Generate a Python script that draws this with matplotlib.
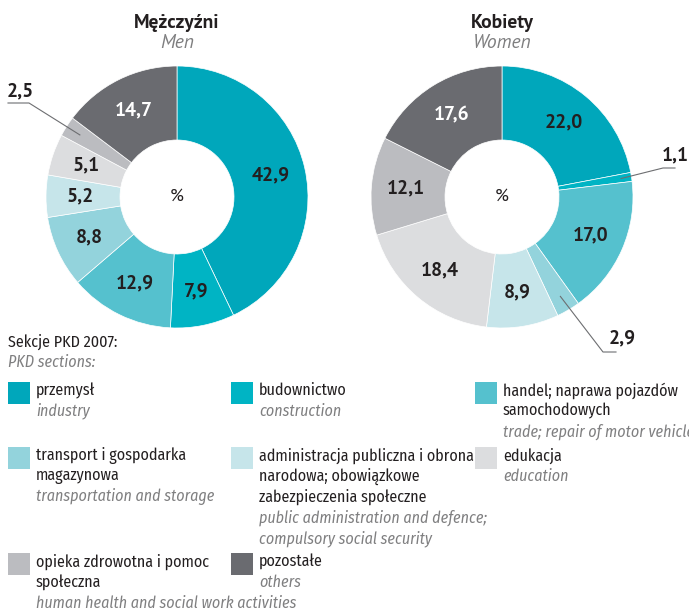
import numpy as np
import matplotlib
matplotlib.use("Agg")
import matplotlib.pyplot as plt
from matplotlib.patches import Rectangle
from matplotlib import font_manager

W, H = 689, 612

categories_pl = ["przemysł", "budownictwo", "handel; naprawa pojazdów\nsamochodowych",
                 "transport i gospodarka\nmagazynowa",
                 "administracja publiczna i obrona\nnarodowa; obowiązkowe\nzabezpieczenia społeczne",
                 "edukacja", "opieka zdrowotna i pomoc\nspołeczna", "pozostałe"]
categories_en = ["industry", "construction", "trade; repair of motor vehicles",
                 "transportation and storage",
                 "public administration and defence;\ncompulsory social security",
                 "education", "human health and social work activities", "others"]
men = [42.9, 7.9, 12.9, 8.8, 5.2, 5.1, 2.5, 14.7]
women = [22.0, 1.1, 17.0, 2.9, 8.9, 18.4, 12.1, 17.6]
colors = ["#00A7BB", "#00B4C4", "#55C1CE", "#93D3DC", "#C6E5EA", "#DCDDDF", "#BBBCC0", "#6A6B70"]

names = {f.name for f in font_manager.fontManager.ttflist}


def pick(*cands):
    for c in cands:
        if c in names:
            return c
    return "DejaVu Sans"


narrow = pick("Fira Sans Condensed", "Roboto Condensed", "PT Sans Narrow")
boldfam = pick("PT Sans", "Fira Sans", "Open Sans")

DARK = "#231F20"
GRAY = "#7F7F80"

fig = plt.figure(figsize=(W / 100, H / 100), dpi=100)
fig.patch.set_facecolor("white")


def fxy(x, y):
    return x / W, 1 - y / H


R_OUT, R_IN = 131, 57
NUM_FS = 14


def donut(cx, cy, values, title_pl, title_en, outside):
    ax = fig.add_axes([(cx - R_OUT) / W, (H - cy - R_OUT) / H, 2 * R_OUT / W, 2 * R_OUT / H])
    wedges, _ = ax.pie(values, colors=colors, startangle=90, counterclock=False,
                       radius=1.0, wedgeprops=dict(width=(R_OUT - R_IN) / R_OUT,
                                                   edgecolor="white", linewidth=0.5))
    ax.set_xlim(-1, 1)
    ax.set_ylim(-1, 1)
    ax.set_aspect("equal")
    ax.axis("off")
    ax.text(0, 0, "%", ha="center", va="center", fontsize=13, color=DARK, family=boldfam)
    cum = np.cumsum([0] + list(values))
    for i, v in enumerate(values):
        mid = 90 - (cum[i] + v / 2) * 3.6
        a = np.deg2rad(mid)
        lab = f"{v:.1f}".replace(".", ",")
        if i in outside:
            (tx, ty), (ex, ey), (hx, hy), r0 = outside[i]
            sx, sy = r0 * np.cos(a), r0 * np.sin(a)
            ax.plot([sx, ex, hx], [sy, ey, hy], color="#6D6E71", lw=0.8, clip_on=False)
            ax.text(tx, ty, lab, ha="center", va="center", fontsize=NUM_FS, fontweight="bold",
                    color=DARK, family=boldfam, clip_on=False)
        else:
            r = 0.735
            col = "white" if i == 7 else DARK
            ax.text(r * np.cos(a), r * np.sin(a), lab, ha="center", va="center",
                    fontsize=NUM_FS, fontweight="bold", color=col, family=boldfam)
    x, y = fxy(cx, 23)
    fig.text(x, y, title_pl, ha="center", va="center", fontsize=14, fontweight="bold",
             color=DARK, family=boldfam)
    x, y = fxy(cx, 43)
    fig.text(x, y, title_en, ha="center", va="center", fontsize=14, style="italic",
             color=GRAY, family=boldfam)
    return ax


def d(cx, cy, x, y):
    return (x - cx) / R_OUT, (cy - y) / R_OUT


mcx, mcy = 177, 197
wcx, wcy = 502, 197
donut(mcx, mcy, men, "Mężczyźni", "Men",
      {6: (d(mcx, mcy, 20, 91), d(mcx, mcy, 29, 103), d(mcx, mcy, 8, 103), 0.88)})
donut(wcx, wcy, women, "Kobiety", "Women",
      {1: (d(wcx, wcy, 675, 155), d(wcx, wcy, 663, 168), d(wcx, wcy, 675, 168), 0.92),
       3: (d(wcx, wcy, 622, 338), d(wcx, wcy, 603, 352), d(wcx, wcy, 616, 352), 0.88)})

FS = 11.5
# legend header
x, y = fxy(8, 342)
fig.text(x, y, "Sekcje PKD 2007:", ha="left", va="center", fontsize=FS, color=DARK, family=narrow)
x, y = fxy(8, 362)
fig.text(x, y, "PKD sections:", ha="left", va="center", fontsize=FS, style="italic",
         color=GRAY, family=narrow)

col_x = [8, 231, 475]
row_y = [382, 447, 553]
LS = 20.7
SQ = 22
for i in range(8):
    r, c = divmod(i, 3)
    sx, sy = col_x[c], row_y[r]
    fig.add_artist(Rectangle(fxy(sx, sy + SQ), SQ / W, SQ / H, transform=fig.transFigure,
                             facecolor=colors[i], edgecolor="none"))
    tx = sx + 28
    lines_pl = categories_pl[i].split("\n")
    lines_en = categories_en[i].split("\n")
    k = 0
    for ln in lines_pl:
        x, y = fxy(tx, sy + 8.5 + k * LS)
        fig.text(x, y, ln, ha="left", va="center", fontsize=FS, color=DARK, family=narrow)
        k += 1
    for ln in lines_en:
        x, y = fxy(tx, sy + 8.5 + k * LS)
        fig.text(x, y, ln, ha="left", va="center", fontsize=FS, style="italic",
                 color=GRAY, family=narrow)
        k += 1

fig.savefig("out.png", dpi=100)
